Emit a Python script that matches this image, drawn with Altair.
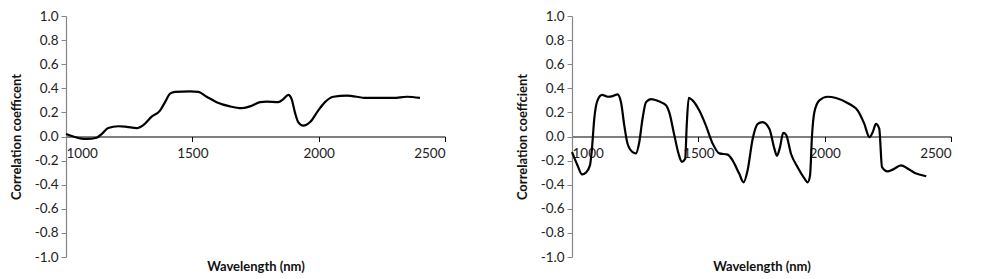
import altair as alt
import pandas as pd

# Left panel
wl_left = [1000, 1055, 1082, 1121, 1141, 1167, 1207, 1240, 1280, 1306, 1339, 1372, 1392, 1412,
           1431, 1491, 1524, 1557, 1596, 1649, 1695, 1728, 1768, 1794, 1840, 1860, 1880, 1893,
           1906, 1919, 1939, 1966, 1998, 2025, 2058, 2111, 2190, 2296, 2349, 2401]
r_left = [0.02, -0.015, -0.02, -0.01, 0.02, 0.07, 0.085, 0.08, 0.07, 0.095, 0.165, 0.215, 0.285,
          0.355, 0.37, 0.375, 0.37, 0.33, 0.285, 0.25, 0.235, 0.25, 0.285, 0.29, 0.285, 0.31,
          0.345, 0.31, 0.2, 0.12, 0.09, 0.12, 0.215, 0.285, 0.33, 0.34, 0.32, 0.32, 0.33, 0.32]

# Right panel
wl_right = [1000, 1022, 1040, 1055, 1071, 1079, 1088, 1101, 1119, 1141, 1161, 1180, 1194, 1207,
            1220, 1240, 1253, 1266, 1279, 1293, 1313, 1346, 1372, 1385, 1405, 1422, 1435, 1448,
            1454, 1462, 1477, 1504, 1530, 1557, 1583, 1616, 1636, 1662, 1679, 1695, 1715, 1735,
            1754, 1781, 1801, 1811, 1823, 1836, 1847, 1867, 1893, 1919, 1933, 1942, 1950, 1959,
            1979, 2012, 2045, 2098, 2131, 2157, 2177, 2190, 2203, 2216, 2227, 2249, 2269, 2302,
            2328, 2355, 2375, 2402]
r_right = [-0.13, -0.24, -0.315, -0.30, -0.24, -0.10, 0.145, 0.30, 0.345, 0.33, 0.335, 0.35,
           0.285, 0.09, -0.06, -0.13, -0.14, -0.05, 0.145, 0.285, 0.31, 0.29, 0.26, 0.2, 0.01,
           -0.145, -0.21, -0.185, 0.09, 0.32, 0.30, 0.215, 0.09, -0.06, -0.14, -0.15, -0.20,
           -0.31, -0.38, -0.28, -0.02, 0.105, 0.12, 0.065, -0.10, -0.16, -0.09, 0.03, 0.015,
           -0.145, -0.255, -0.345, -0.38, -0.325, 0.01, 0.2, 0.30, 0.33, 0.32, 0.27, 0.215,
           0.105, -0.005, 0.035, 0.105, 0.065, -0.255, -0.29, -0.275, -0.24, -0.265, -0.30,
           -0.315, -0.33]

x_ticks = [1000, 1500, 2000, 2500]
y_ticks = [-1.0, -0.8, -0.6, -0.4, -0.2, 0.0, 0.2, 0.4, 0.6, 0.8, 1.0]

W, H = 379, 241


def panel(wl, r, ytitle):
    df = pd.DataFrame({"wl": wl, "r": r})
    return alt.Chart(df).mark_line(
        color="black", strokeWidth=2.2, interpolate="monotone"
    ).encode(
        x=alt.X("wl:Q", scale=alt.Scale(domain=[1000, 2500], nice=False, zero=False),
                axis=alt.Axis(values=x_ticks, offset=-H / 2, title="Wavelength (nm)",
                              domainColor="black", tickColor="black", tickSize=5,
                              labelPadding=5, titlePadding=100, format="d")),
        y=alt.Y("r:Q", scale=alt.Scale(domain=[-1, 1], nice=False),
                axis=alt.Axis(values=y_ticks, title=ytitle, domainColor="#868686",
                              tickColor="#868686", tickSize=5, labelPadding=3,
                              titlePadding=11,
                              labelExpr="replace(format(datum.value, '.1f'), '\u2212', '-')")),
    ).properties(width=W, height=H)


left = panel(wl_left, r_left, "Correlation coefficent")
right = panel(wl_right, r_right, "Correlation coeffcient")

chart = alt.hconcat(left, right, spacing=127, bounds="flush").properties(
    padding={"left": 2, "top": 1, "right": 0, "bottom": 0}
).configure_view(stroke=None).configure_axis(
    grid=False, labelFont="Lato", labelFontSize=13.5, labelColor="#222",
    titleFont="Lato", titleFontSize=13, titleFontWeight="bold", titleColor="#111",
    domainWidth=1.2,
)

chart.save("out.html", embed_options={"renderer": "svg", "actions": False})
